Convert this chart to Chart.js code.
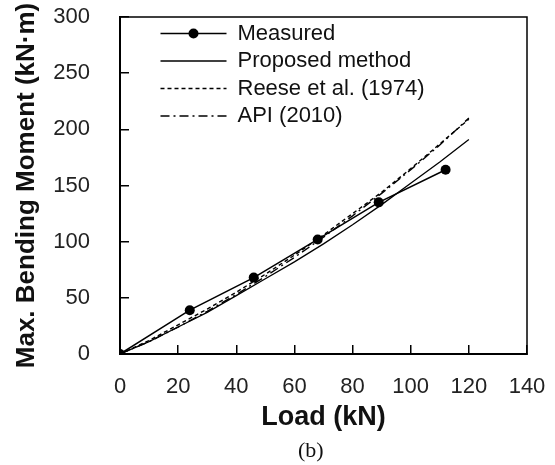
<!DOCTYPE html>
<html>
<head>
<meta charset="utf-8">
<script src="https://cdn.jsdelivr.net/npm/chart.js@4.4.1/dist/chart.umd.min.js"></script>
<style>
    html, body { margin: 0; padding: 0; background: #fff; }
    #wrap { position: relative; width: 555px; height: 465px; }
    #chart { position: absolute; left: 0; top: 0; }
    #caption {
        position: absolute;
        left: 298px;
        top: 439px;
        font: 22px "Liberation Serif", "Times New Roman", serif;
        line-height: 22px;
        color: #111;
    }
</style>
</head>
<body>
<div id="wrap">
    <canvas id="chart" width="555" height="465"></canvas>
    <div id="caption">(b)</div>
</div>
<script>
// data
const loadGrid = [0, 10, 20, 30, 40, 50, 60, 70, 80, 90, 100, 110, 120];
const measuredLoad = [0, 24, 46, 68, 89, 112];
const measuredMoment = [0, 39, 68, 102, 135, 164];
const proposedMoment = [0, 11, 24, 37, 52, 67, 82, 98, 115, 133, 152, 171, 191];
const reeseMoment = [0, 12, 26, 40, 55, 71, 88, 106, 125, 144, 165, 187, 209];
const apiMoment = [0, 11, 24, 38, 53, 69, 86, 104, 123, 143, 164, 186, 210];
const seriesNames = ['Measured', 'Proposed method', 'Reese et al. (1974)', 'API (2010)'];
const xTicks = [0, 20, 40, 60, 80, 100, 120, 140];
const yTicks = [0, 50, 100, 150, 200, 250, 300];

function toPoints(xs, ys) {
    return xs.map((x, i) => ({ x: x, y: ys[i] }));
}

const sansFont = 'Arial, "Liberation Sans", sans-serif';

// box round the plot + marker on the "Measured" legend line
const framePlugin = {
    id: 'frame',
    afterLayout(chart) {
        // move the in-plot legend to where the original has it
        const lg = chart.legend;
        lg.left = chart.chartArea.left + 35;
        lg.top = chart.chartArea.top;
    },
    afterDraw(chart) {
        const ctx = chart.ctx;
        const a = chart.chartArea;
        ctx.save();
        ctx.strokeStyle = '#000';
        ctx.lineWidth = 1.5;
        ctx.strokeRect(a.left, a.top, a.right - a.left, a.bottom - a.top);
        const hb = chart.legend.legendHitBoxes[0];
        if (hb) {
            ctx.fillStyle = '#000';
            ctx.beginPath();
            ctx.arc(hb.left + 33, hb.top + 11, 5, 0, Math.PI * 2);
            ctx.fill();
        }
        ctx.restore();
    }
};

new Chart(document.getElementById('chart').getContext('2d'), {
    type: 'line',
    data: {
        datasets: [{
            label: seriesNames[0],
            data: toPoints(measuredLoad, measuredMoment),
            borderColor: '#000',
            backgroundColor: '#000',
            borderWidth: 1.5,
            pointRadius: 5,
            pointBackgroundColor: '#000',
            pointBorderWidth: 0
        }, {
            label: seriesNames[1],
            data: toPoints(loadGrid, proposedMoment),
            borderColor: '#000',
            borderWidth: 1.3,
            pointRadius: 0
        }, {
            label: seriesNames[2],
            data: toPoints(loadGrid, reeseMoment),
            borderColor: '#000',
            borderWidth: 1.4,
            borderDash: [4, 3],
            pointRadius: 0
        }, {
            label: seriesNames[3],
            data: toPoints(loadGrid, apiMoment),
            borderColor: '#000',
            borderWidth: 1.4,
            borderDash: [9, 4, 2, 4],
            pointRadius: 0
        }]
    },
    options: {
        responsive: false,
        animation: false,
        layout: { padding: { left: 0, top: 17, right: 28, bottom: 0 } },
        scales: {
            x: {
                type: 'linear',
                min: 0,
                max: 140,
                afterBuildTicks: s => { s.ticks = xTicks.map(v => ({ value: v })); },
                afterFit: s => {
                    s.height = 111;
                    s.paddingLeft = 0;
                    s.paddingRight = 0;
                },
                ticks: {
                    color: '#222',
                    padding: 29,
                    font: { family: sansFont, size: 22 }
                },
                grid: {
                    drawOnChartArea: false,
                    tickLength: -9,
                    color: '#000',
                    lineWidth: 1.5
                },
                border: { display: true, color: '#000', width: 2 },
                title: {
                    display: true,
                    text: 'Load (kN)',
                    color: '#111',
                    font: { family: sansFont, size: 27, weight: 'bold' },
                    padding: { top: 0, bottom: 31 }
                }
            },
            y: {
                min: 0,
                max: 300,
                afterBuildTicks: s => { s.ticks = yTicks.map(v => ({ value: v })); },
                afterFit: s => {
                    s.width = 120;
                    s.paddingTop = 0;
                    s.paddingBottom = 0;
                },
                ticks: {
                    color: '#222',
                    padding: 39,
                    font: { family: sansFont, size: 22 }
                },
                grid: {
                    drawOnChartArea: false,
                    tickLength: -9,
                    color: '#000',
                    lineWidth: 1.5
                },
                border: { display: true, color: '#000', width: 2 },
                title: {
                    display: true,
                    text: 'Max. Bending Moment (kN·m)',
                    color: '#111',
                    font: { family: sansFont, size: 26, weight: 'bold' },
                    padding: { top: 11, bottom: 0 }
                }
            }
        },
        plugins: {
            legend: {
                position: 'chartArea',
                align: 'start',
                labels: {
                    usePointStyle: true,
                    pointStyleWidth: 66,
                    padding: 5.5,
                    color: '#111',
                    font: { family: sansFont, size: 22 },
                    generateLabels: chart => {
                        const items = Chart.defaults.plugins.legend.labels.generateLabels(chart);
                        items.forEach((it, i) => {
                            const ds = chart.data.datasets[i];
                            it.pointStyle = 'line';
                            it.strokeStyle = '#000';
                            it.lineWidth = ds.borderWidth;
                            it.lineDash = ds.borderDash || [];
                        });
                        return items;
                    }
                }
            },
            tooltip: { enabled: false }
        }
    },
    plugins: [framePlugin]
});
</script>
</body>
</html>
